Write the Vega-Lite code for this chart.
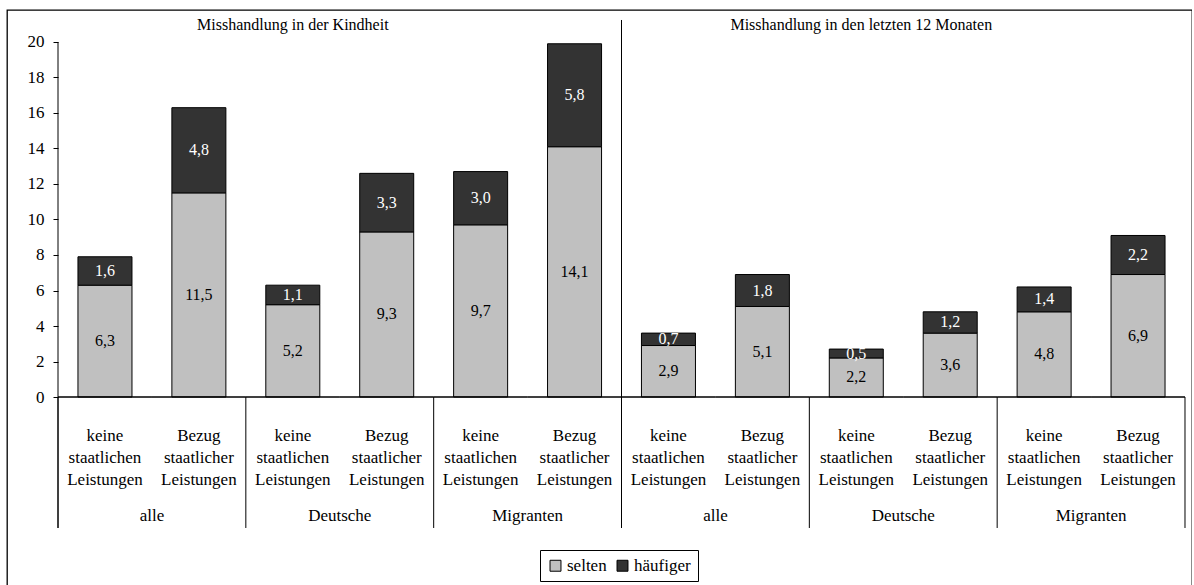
{
  "$schema": "https://vega.github.io/schema/vega-lite/v6.json",
  "width": 1185,
  "height": 590,
  "autosize": {"type": "none"},
  "padding": {"left": 7, "top": 10, "right": 0, "bottom": 0},
  "background": "white",
  "config": {
    "locale": {"number": {"decimal": ",", "thousands": ".", "grouping": [3], "currency": ["", " €"]}},
    "font": "Liberation Serif",
    "view": {"stroke": "black", "strokeWidth": 1.3},
    "text": {"font": "Liberation Serif", "fontSize": 16, "color": "black"}
  },
  "data": {
    "values": [
      {"bar": "K1", "gruppe": "alle", "leistung": "keine\nstaatlichen\nLeistungen", "selten": 6.3, "häufiger": 1.6},
      {"bar": "K2", "gruppe": "alle", "leistung": "Bezug\nstaatlicher\nLeistungen", "selten": 11.5, "häufiger": 4.8},
      {"bar": "K3", "gruppe": "Deutsche", "leistung": "keine\nstaatlichen\nLeistungen", "selten": 5.2, "häufiger": 1.1},
      {"bar": "K4", "gruppe": "Deutsche", "leistung": "Bezug\nstaatlicher\nLeistungen", "selten": 9.3, "häufiger": 3.3},
      {"bar": "K5", "gruppe": "Migranten", "leistung": "keine\nstaatlichen\nLeistungen", "selten": 9.7, "häufiger": 3.0},
      {"bar": "K6", "gruppe": "Migranten", "leistung": "Bezug\nstaatlicher\nLeistungen", "selten": 14.1, "häufiger": 5.8},
      {"bar": "M1", "gruppe": "alle", "leistung": "keine\nstaatlichen\nLeistungen", "selten": 2.9, "häufiger": 0.7},
      {"bar": "M2", "gruppe": "alle", "leistung": "Bezug\nstaatlicher\nLeistungen", "selten": 5.1, "häufiger": 1.8},
      {"bar": "M3", "gruppe": "Deutsche", "leistung": "keine\nstaatlichen\nLeistungen", "selten": 2.2, "häufiger": 0.5},
      {"bar": "M4", "gruppe": "Deutsche", "leistung": "Bezug\nstaatlicher\nLeistungen", "selten": 3.6, "häufiger": 1.2},
      {"bar": "M5", "gruppe": "Migranten", "leistung": "keine\nstaatlichen\nLeistungen", "selten": 4.8, "häufiger": 1.4},
      {"bar": "M6", "gruppe": "Migranten", "leistung": "Bezug\nstaatlicher\nLeistungen", "selten": 6.9, "häufiger": 2.2}
    ]
  },
  "layer": [
    {
      "transform": [{"fold": ["selten", "häufiger"], "as": ["Kategorie", "Wert"]}],
      "mark": {"type": "bar", "width": {"band": 0.575}, "stroke": "black", "strokeWidth": 1},
      "encoding": {
        "x": {"field": "bar", "type": "nominal", "scale": {"type": "band", "paddingInner": 0, "paddingOuter": 0.30885, "align": 0.87931}, "axis": null},
        "y": {"field": "Wert", "type": "quantitative", "stack": "zero",
              "scale": {"domain": [-11.4366, 21.8028], "nice": false, "zero": false},
              "axis": {"orient": "left", "title": null, "values": [0, 2, 4, 6, 8, 10, 12, 14, 16, 18, 20], "format": "d", "domain": false, "grid": false, "ticks": true, "tickSize": 5, "tickColor": "black", "tickWidth": 1, "labelFontSize": 17, "labelFont": "Liberation Serif", "labelColor": "black", "labelPadding": 9, "offset": -51, "zindex": 2}},
        "color": {"field": "Kategorie", "type": "nominal",
                  "scale": {"domain": ["selten", "häufiger"], "range": ["#c0c0c0", "#333333"]},
                  "legend": {"orient": "none", "legendX": 533, "legendY": 540, "direction": "horizontal", "title": null, "symbolType": "square", "symbolSize": 120, "symbolStrokeColor": "black", "symbolStrokeWidth": 1, "labelFontSize": 17, "labelFont": "Liberation Serif", "labelColor": "black", "strokeColor": "black", "fillColor": "white", "padding": 7, "columnPadding": 7, "labelOffset": 3}},
        "order": {"field": "Kategorie", "sort": "descending"}
      }
    },
    {
      "transform": [{"fold": ["selten", "häufiger"], "as": ["Kategorie", "Wert"]}],
      "mark": {"type": "text", "fontSize": 16, "font": "Liberation Serif", "baseline": "middle"},
      "encoding": {
        "x": {"field": "bar", "type": "nominal", "scale": {"type": "band", "paddingInner": 0, "paddingOuter": 0.30885, "align": 0.87931}, "axis": null},
        "y": {"field": "Wert", "type": "quantitative", "stack": "zero", "bandPosition": 0.5},
        "detail": {"field": "Kategorie", "type": "nominal"},
        "order": {"field": "Kategorie", "sort": "descending"},
        "text": {"field": "Wert", "type": "quantitative", "format": ".1f"},
        "color": {"condition": {"test": "datum.Kategorie === 'häufiger'", "value": "white"}, "value": "black"}
      }
    },
    {
      "mark": {"type": "rect", "fill": null, "fillOpacity": 0, "stroke": "black", "strokeWidth": 1},
      "encoding": {
        "x": {"field": "bar", "type": "nominal", "scale": {"type": "band", "paddingInner": 0, "paddingOuter": 0.30885, "align": 0.87931}, "axis": null},
        "y": {"datum": 0, "type": "quantitative"},
        "y2": {"datum": 0}
      }
    },
    {
      "transform": [{"filter": "indexof(datum.leistung, 'keine') === 0"}],
      "mark": {"type": "rule", "color": "black", "strokeWidth": 1},
      "encoding": {
        "x": {"field": "bar", "type": "nominal", "bandPosition": 0, "scale": {"type": "band", "paddingInner": 0, "paddingOuter": 0.30885, "align": 0.87931}, "axis": null},
        "y": {"datum": 0, "type": "quantitative"},
        "y2": {"datum": -7.38}
      }
    },
    {
      "data": {"values": [{}]},
      "mark": {"type": "rule", "color": "black", "strokeWidth": 1},
      "encoding": {
        "x": {"datum": "K1", "type": "nominal", "bandPosition": 0, "scale": {"type": "band", "paddingInner": 0, "paddingOuter": 0.30885, "align": 0.87931}, "axis": null},
        "y": {"datum": 20, "type": "quantitative"},
        "y2": {"datum": -7.38}
      }
    },
    {
      "data": {"values": [{}]},
      "mark": {"type": "rule", "color": "black", "strokeWidth": 1},
      "encoding": {
        "x": {"datum": "M1", "type": "nominal", "bandPosition": 0, "scale": {"type": "band", "paddingInner": 0, "paddingOuter": 0.30885, "align": 0.87931}, "axis": null},
        "y": {"datum": 21.24, "type": "quantitative"},
        "y2": {"datum": -7.38}
      }
    },
    {
      "data": {"values": [{}]},
      "mark": {"type": "rule", "color": "black", "strokeWidth": 1},
      "encoding": {
        "x": {"datum": "M6", "type": "nominal", "bandPosition": 1, "scale": {"type": "band", "paddingInner": 0, "paddingOuter": 0.30885, "align": 0.87931}, "axis": null},
        "y": {"datum": 0, "type": "quantitative"},
        "y2": {"datum": -7.38}
      }
    },
    {
      "mark": {"type": "text", "lineBreak": "\n", "lineHeight": 22, "fontSize": 17, "font": "Liberation Serif", "baseline": "middle"},
      "encoding": {
        "x": {"field": "bar", "type": "nominal", "scale": {"type": "band", "paddingInner": 0, "paddingOuter": 0.30885, "align": 0.87931}, "axis": null},
        "y": {"datum": -2.2, "type": "quantitative"},
        "text": {"field": "leistung", "type": "nominal"}
      }
    },
    {
      "transform": [{"filter": "indexof(datum.leistung, 'Bezug') === 0"}],
      "mark": {"type": "text", "fontSize": 17, "font": "Liberation Serif", "baseline": "middle"},
      "encoding": {
        "x": {"field": "bar", "type": "nominal", "bandPosition": 0, "scale": {"type": "band", "paddingInner": 0, "paddingOuter": 0.30885, "align": 0.87931}, "axis": null},
        "y": {"datum": -6.7, "type": "quantitative"},
        "text": {"field": "gruppe", "type": "nominal"}
      }
    },
    {
      "data": {"values": [{}]},
      "mark": {"type": "text", "fontSize": 16, "font": "Liberation Serif", "baseline": "middle"},
      "encoding": {
        "x": {"datum": "K3", "type": "nominal", "scale": {"type": "band", "paddingInner": 0, "paddingOuter": 0.30885, "align": 0.87931}, "axis": null},
        "y": {"datum": 20.96, "type": "quantitative"},
        "text": {"value": "Misshandlung in der Kindheit"}
      }
    },
    {
      "data": {"values": [{}]},
      "mark": {"type": "text", "fontSize": 16, "font": "Liberation Serif", "baseline": "middle", "dx": 5},
      "encoding": {
        "x": {"datum": "M3", "type": "nominal", "scale": {"type": "band", "paddingInner": 0, "paddingOuter": 0.30885, "align": 0.87931}, "axis": null},
        "y": {"datum": 20.96, "type": "quantitative"},
        "text": {"value": "Misshandlung in den letzten 12 Monaten"}
      }
    }
  ]
}
